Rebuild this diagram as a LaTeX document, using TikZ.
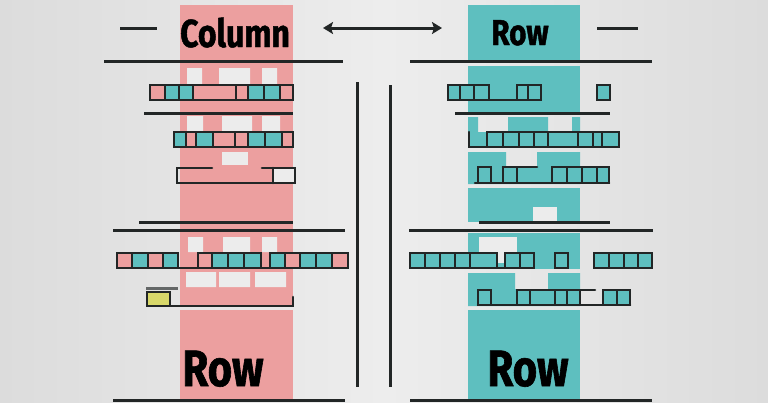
\documentclass[tikz,border=0pt]{standalone}
\usepackage{fontspec}
\newfontfamily\condfont[FakeStretch=0.82,FakeBold=1.2]{Fira Sans}
\usetikzlibrary{arrows.meta}
\definecolor{bgL}{HTML}{DCDCDC}
\definecolor{bgM}{HTML}{EDEDED}
\definecolor{pk}{HTML}{EC9F9F}
\definecolor{tl}{HTML}{5EBFBF}
\definecolor{hole}{HTML}{ECECEC}
\definecolor{ink}{HTML}{222626}
\definecolor{yl}{HTML}{D8D86A}
\tikzset{
  rule/.style={draw=ink, line width=3pt},
  cell/.style={draw=ink, line width=2.6pt},
  open/.style={draw=ink, line width=2.6pt, line cap=round},
  bigtext/.style={font=\condfont\bfseries, text=black, inner sep=0pt, anchor=base},
}
\begin{document}
\begin{tikzpicture}[x=1pt,y=-1pt]
\useasboundingbox (0,0) rectangle (768,402);
\shade[left color=bgL, right color=bgL, middle color=bgM] (0,0) rectangle (768,402);

% ---------------- pink column ----------------
\fill[pk] (180,5) rectangle (293,305);
\fill[pk] (180,310) rectangle (293,402);
\fill[hole] (187,68) rectangle (202,84) (219,68) rectangle (250,84) (262,68) rectangle (277,84);
\fill[hole] (187,116) rectangle (203,131) (222,116) rectangle (252,131) (262,116) rectangle (280,131);
\fill[hole] (222,152) rectangle (248,165);
\fill[hole] (188,237) rectangle (203,252) (223,237) rectangle (250,252) (262,237) rectangle (277,252);
\fill[hole] (186,272) rectangle (216,287) (219,272) rectangle (250,287) (255,272) rectangle (286,287);

% ---------------- teal column ----------------
\fill[tl] (468,5) rectangle (580,60);
\fill[tl] (468,66) rectangle (580,112);
\fill[tl] (468,117) rectangle (478,147) (508,117) rectangle (548,147) (572,117) rectangle (580,147);
\fill[tl] (468,132) rectangle (580,147);
\fill[tl] (468,152) rectangle (506,184) (537,152) rectangle (580,184) (468,166) rectangle (580,184);
\fill[tl] (468,188) rectangle (580,222);
\fill[hole] (533,207) rectangle (557,223);
\fill[tl] (468,233) rectangle (580,269);
\fill[hole] (479,237) rectangle (517,263);
\fill[tl] (468,273) rectangle (515,306) (548,273) rectangle (580,306) (468,289) rectangle (580,306);
\fill[tl] (468,310) rectangle (580,402);

% ---------------- headings ----------------
\node[bigtext, font=\condfont\bfseries\fontsize{39}{39}\selectfont] (colhead) at (235,47) {Column};
\node[bigtext, font=\condfont\bfseries\fontsize{36}{36}\selectfont] (rowhead) at (520,45) {Row};
\node[bigtext, font=\condfont\bfseries\fontsize{51}{51}\selectfont] (rowL) at (223,386) {Row};
\node[bigtext, font=\condfont\bfseries\fontsize{51}{51}\selectfont] (rowR) at (528,386) {Row};

\coordinate (arrL) at (323,28);
\coordinate (arrR) at (442,28);
\draw[draw=ink, line width=3pt, {Stealth[length=10pt,width=12pt,inset=2pt]}-{Stealth[length=10pt,width=12pt,inset=2pt]}] (arrL) -- (arrR);
\draw[rule] (120,28) -- (157,28);
\draw[rule] (597,28) -- (638,28);

% ---------------- rules ----------------
\draw[rule] (104,61) -- (343,61);
\draw[rule] (410,61) -- (652,61);
\draw[rule] (144,113) -- (293,113);
\draw[rule] (455,113) -- (610,113);
\draw[rule] (139,222) -- (293,222);
\draw[rule] (479,222) -- (610,222);
\draw[rule] (113,230) -- (345,230);
\draw[rule] (409,230) -- (653,230);
\draw[rule] (113,400) -- (345,400);
\draw[rule] (410,400) -- (652,400);
\draw[rule] (357,82) -- (357,387);
\draw[rule] (390,85) -- (390,387);

% ---------------- left rows ----------------
\foreach \a/\b/\c in {150/165/pk,165/179/tl,179/193/tl,193/236/pk,236/248/pk,248/264/tl,264/280/tl,280/293/pk}
  \draw[cell, fill=\c] (\a,85) rectangle (\b,100);
\foreach \a/\b/\c in {174/186/tl,186/196/pk,196/213/tl,213/235/pk,235/248/pk,248/265/tl,265/282/tl,282/293/pk}
  \draw[cell, fill=\c] (\a,132) rectangle (\b,147);
\fill[hole] (273,168) rectangle (295,183);
\draw[open] (212,168) -- (177,168) -- (177,183) -- (295,183) -- (295,168) -- (262,168);
\draw[open] (273,168) -- (273,183);
\foreach \a/\b/\c in {117/132/pk,132/148/tl,148/163/pk,163/178/tl,198/212/pk,212/228/tl,228/244/tl,244/261/tl,270/285/tl,285/300/pk,300/316/tl,316/332/tl,332/348/pk}
  \draw[cell, fill=\c] (\a,253) rectangle (\b,268);
\draw[open] (178,268) -- (198,268) (261,268) -- (270,268);
\draw[cell, fill=yl] (147,292) rectangle (170,306);
\draw[draw=ink!70, line width=3pt] (146,288) -- (178,288);
\draw[open] (170,306) -- (293,306) -- (293,297);

% ---------------- right rows ----------------
\foreach \a/\b in {448/460,460/474,474/489,517/528,528/541,597/610}
  \draw[cell, fill=tl] (\a,85) rectangle (\b,100);
\draw[open] (489,100) -- (517,100);
\draw[open] (469,132) -- (469,147) -- (487,147);
\foreach \a/\b in {487/503,503/519,519/534,534/548,548/578,578/593,593/602,602/619}
  \draw[cell, fill=tl] (\a,132) rectangle (\b,147);
\draw[open] (475,183) -- (609,183) (503,167) -- (537,167);
\foreach \a/\b in {478/491,503/517,552/567,567/582,582/597,597/609}
  \draw[cell, fill=tl] (\a,167) rectangle (\b,183);
\foreach \a/\b in {410/425,425/440,440/455,455/470,470/497,505/520,520/534,555/568,594/609,609/624,624/638,638/652}
  \draw[cell, fill=tl] (\a,253) rectangle (\b,268);
\draw[open] (497,268) -- (505,268);
\draw[open] (478,305) -- (630,305) (555,290) -- (595,290);
\foreach \a/\b in {478/491,517/530,530/555,555/567,567/580,603/617,617/630}
  \draw[cell, fill=tl] (\a,290) rectangle (\b,305);
\end{tikzpicture}
\end{document}
